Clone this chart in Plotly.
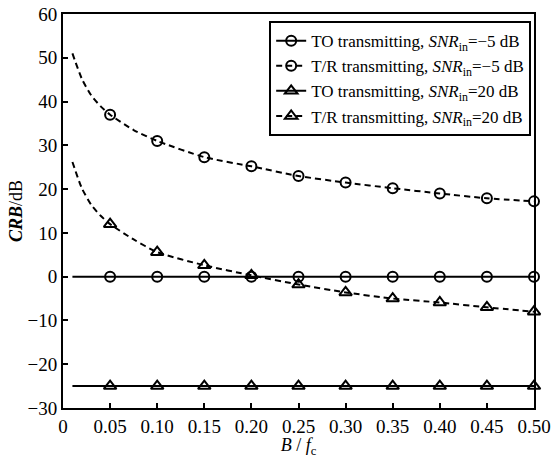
import plotly.graph_objects as go

# ---- data ----
x_markers = [0.05, 0.10, 0.15, 0.20, 0.25, 0.30, 0.35, 0.40, 0.45, 0.50]
to_m5 = [0, 0, 0, 0, 0, 0, 0, 0, 0, 0]
tr_m5 = [37, 31, 27.3, 25.2, 23, 21.5, 20.2, 19, 17.9, 17.2]
to_20 = [-25, -25, -25, -25, -25, -25, -25, -25, -25, -25]
tr_20 = [12, 5.6, 2.6, 0.3, -1.8, -3.6, -5, -5.9, -7, -8]

x_curve = [0.01, 0.02, 0.03, 0.04, 0.05, 0.075, 0.10, 0.15, 0.20, 0.25, 0.30, 0.35, 0.40, 0.45, 0.50]
to_m5_curve = [0, 0, 0, 0, 0, 0, 0, 0, 0, 0, 0, 0, 0, 0, 0]
tr_m5_curve = [51, 45.2, 41.4, 38.9, 37, 33.5, 31, 27.3, 25.2, 23, 21.5, 20.2, 19, 17.9, 17.2]
to_20_curve = [-25, -25, -25, -25, -25, -25, -25, -25, -25, -25, -25, -25, -25, -25, -25]
tr_20_curve = [26.2, 20.2, 16.4, 13.9, 12, 8.5, 5.6, 2.6, 0.3, -1.8, -3.6, -5, -5.9, -7, -8]

x_ticks = [0, 0.05, 0.10, 0.15, 0.20, 0.25, 0.30, 0.35, 0.40, 0.45, 0.50]
x_tick_text = ["0", "0.05", "0.10", "0.15", "0.20", "0.25", "0.30", "0.35", "0.40", "0.45", "0.50"]
y_ticks = [-30, -20, -10, 0, 10, 20, 30, 40, 50, 60]

names = [
    "TO transmitting, <i>SNR</i><sub>in</sub>=−5 dB",
    "T/R transmitting, <i>SNR</i><sub>in</sub>=−5 dB",
    "TO transmitting, <i>SNR</i><sub>in</sub>=20 dB",
    "T/R transmitting, <i>SNR</i><sub>in</sub>=20 dB",
]

FONT = "Liberation Serif, Times New Roman, serif"
series = [
    (to_m5_curve, to_m5, "solid", "circle-open", 10),
    (tr_m5_curve, tr_m5, "6px,4px", "circle-open", 10),
    (to_20_curve, to_20, "solid", "triangle-up-open", 11),
    (tr_20_curve, tr_20, "6px,4px", "triangle-up-open", 11),
]

fig = go.Figure()
for name, (yc, ym, dash, sym, sz) in zip(names, series):
    fig.add_trace(go.Scatter(x=x_curve, y=yc, mode="lines", line=dict(color="black", width=2, dash=dash, shape="spline", smoothing=0.6),
                             showlegend=False, hoverinfo="skip", cliponaxis=False))
    fig.add_trace(go.Scatter(x=x_markers, y=ym, mode="markers",
                             marker=dict(symbol=sym, size=sz, color="black", line=dict(width=2, color="black")),
                             showlegend=False, cliponaxis=False))
    fig.add_trace(go.Scatter(x=[None], y=[None], mode="lines+markers", name=name,
                             line=dict(color="black", width=2, dash=dash),
                             marker=dict(symbol=sym, size=sz, color="black", line=dict(width=2, color="black"))))

fig.update_layout(
    width=552, height=458,
    margin=dict(l=63, r=18, t=14, b=50, autoexpand=False),
    paper_bgcolor="white", plot_bgcolor="white",
    font=dict(family=FONT, size=17, color="black"),
    showlegend=True,
    legend=dict(x=0.994, y=0.982, xanchor="right", yanchor="top",
                bgcolor="white", bordercolor="black", borderwidth=2,
                font=dict(family=FONT, size=17), tracegroupgap=0,
                itemwidth=30),
)
fig.update_xaxes(range=[0, 0.5], tickvals=x_ticks, ticktext=x_tick_text,
                 showgrid=False, zeroline=False, showline=True, linecolor="black", linewidth=2,
                 mirror=True, ticks="inside", ticklen=5, tickwidth=1.5, tickcolor="black",
                 ticklabeloverflow="allow",
                 tickfont=dict(family=FONT, size=19),
                 title=dict(text="<i>B</i> / <i>f</i><sub>c</sub>", font=dict(family=FONT, size=18), standoff=0))
fig.update_yaxes(range=[-30, 60], tickvals=y_ticks,
                 showgrid=False, zeroline=False, showline=True, linecolor="black", linewidth=2,
                 mirror=True, ticks="inside", ticklen=5, tickwidth=1.5, tickcolor="black",
                 tickfont=dict(family=FONT, size=19),
                 title=dict(text="<b><i>CRB</i></b>/dB", font=dict(family=FONT, size=18), standoff=0))

fig.write_html("out.html", config={"displayModeBar": False},
               post_script="document.body.style.margin='0';document.body.style.padding='0';")
